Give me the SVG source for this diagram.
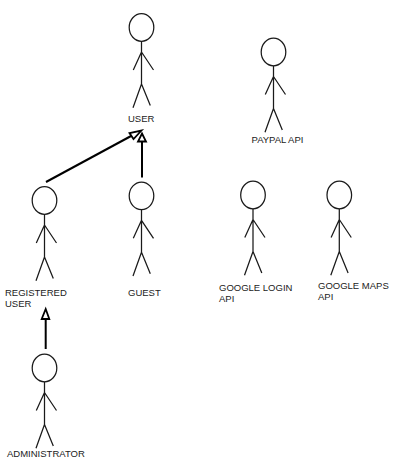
<svg xmlns="http://www.w3.org/2000/svg" xmlns:xlink="http://www.w3.org/1999/xlink" width="404" height="468" viewBox="0 0 404 468">
<style>
.bg{fill:#fff}
.fig{fill:none;stroke:#1a1a1a;stroke-width:1.25}
.lbl{font-family:"Liberation Sans",Arial,sans-serif;font-size:9.5px;fill:#222}
.con{stroke:#000;stroke-width:2;fill:none}
.tip{stroke:#000;stroke-width:1.8;fill:#fff}
</style>
<defs>
<g id="actor" class="fig">
<ellipse cx="141.5" cy="27.5" rx="12.3" ry="13.8"/>
<path d="M141.5 41.3V84M141.5 52L133.3 70M141.5 52L153.5 70M141.5 84L133 107.7M141.5 84L150.3 105.5"/>
</g>
</defs>
<rect class="bg" width="404" height="468"/>
<g id="connectors">
<path class="con" d="M46 182L132 135.5"/>
<polygon class="tip" points="141.5,130.5 133.5,139 129.5,133"/>
<path class="con" d="M142 177.5V141"/>
<polygon class="tip" points="142,133.5 146,141.5 138,141.5"/>
<path class="con" d="M45.7 349V319"/>
<polygon class="tip" points="45.7,309 49.3,319 41.7,319"/>
</g>
<g id="user"><use href="#actor"/><text class="lbl" x="128" y="122">USER</text></g>
<g id="paypal-api"><use href="#actor" x="132" y="24.5"/><text class="lbl" x="251.5" y="142.7">PAYPAL API</text></g>
<g id="registered-user"><use href="#actor" x="-97" y="173"/><text class="lbl" x="5" y="295.5">REGISTERED</text><text class="lbl" x="5" y="306.5">USER</text></g>
<g id="guest"><use href="#actor" y="168.3"/><text class="lbl" x="128" y="295.5">GUEST</text></g>
<g id="google-login-api"><use href="#actor" x="111.5" y="167.5"/><text class="lbl" x="219" y="291">GOOGLE LOGIN</text><text class="lbl" x="219" y="302">API</text></g>
<g id="google-maps-api"><use href="#actor" x="197.8" y="167.5"/><text class="lbl" x="318" y="289">GOOGLE MAPS</text><text class="lbl" x="318" y="300">API</text></g>
<g id="administrator"><use href="#actor" x="-97" y="340.5"/><text class="lbl" x="7" y="457">ADMINISTRATOR</text></g>
</svg>
